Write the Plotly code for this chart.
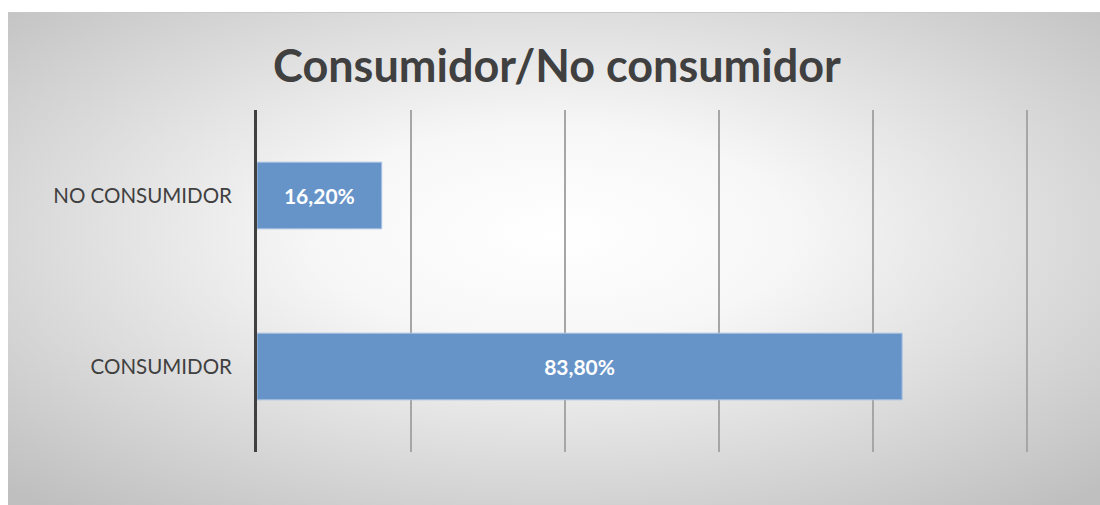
import base64
import plotly.graph_objects as go

# Survey split between consumers and non-consumers
categories = ["CONSUMIDOR", "NO CONSUMIDOR"]
shares = [0.838, 0.162]
title_text = "Consumidor/No consumidor"

W, H = 1100, 505
ML, MR, MT, MB = 257, 72, 110, 53
pw, ph = W - ML - MR, H - MT - MB

# Soft radial backdrop for the chart card
svg = (
    '<svg xmlns="http://www.w3.org/2000/svg" width="1092" height="493" viewBox="0 0 1092 493">'
    '<defs><radialGradient id="g" cx="50%" cy="45%" r="72%" gradientUnits="objectBoundingBox">'
    '<stop offset="0" stop-color="#ffffff"/><stop offset="0.3" stop-color="#f7f7f7"/>'
    '<stop offset="1" stop-color="#bfbfbf"/></radialGradient></defs>'
    '<rect width="1092" height="493" fill="url(#g)"/>'
    '<line x1="0" y1="0.5" x2="1092" y2="0.5" stroke="#c8c8c8" stroke-width="1"/></svg>'
)
bg_src = "data:image/svg+xml;base64," + base64.b64encode(svg.encode()).decode()

card_x0, card_y0, card_x1, card_y1 = 8, 12, 1100, 505

fig = go.Figure(
    go.Bar(
        x=shares,
        y=categories,
        orientation="h",
        marker=dict(color="#6794c8", line=dict(color="#a9c1e2", width=1)),
        texttemplate="%{x:.2%}",
        textposition="inside",
        insidetextanchor="middle",
        textfont=dict(family="Lato", size=21, color="white", weight="bold"),
        width=0.39,
        hoverinfo="skip",
    )
)

fig.add_layout_image(
    source=bg_src,
    xref="paper", yref="paper",
    x=(card_x0 - ML) / pw, y=1 + (MT - card_y0) / ph,
    sizex=(card_x1 - card_x0) / pw, sizey=(card_y1 - card_y0) / ph,
    xanchor="left", yanchor="top", sizing="stretch", layer="below",
)

fig.update_layout(
    width=W, height=H,
    margin=dict(l=ML, r=MR, t=MT, b=MB),
    paper_bgcolor="white",
    plot_bgcolor="rgba(0,0,0,0)",
    separators=",.",
    showlegend=False,
    title=dict(
        text=title_text,
        x=557 / W, xanchor="center",
        y=1 - 66 / H, yanchor="middle",
        font=dict(family="Lato", size=45, color="#404040", weight="bold"),
    ),
    xaxis=dict(
        range=[0, 1.0015],
        tickvals=[0.2, 0.4, 0.6, 0.8, 1.0],
        showticklabels=False,
        showgrid=True,
        gridcolor="#a6a6a6",
        gridwidth=1.5,
        zeroline=False,
        showline=False,
        fixedrange=True,
    ),
    yaxis=dict(
        showline=True,
        linecolor="#404040",
        linewidth=3,
        ticks="",
        ticklabelstandoff=18,
        tickfont=dict(family="Lato", size=20.5, color="#404040"),
        showgrid=False,
        fixedrange=True,
    ),
)

fig.write_html("out.html")
